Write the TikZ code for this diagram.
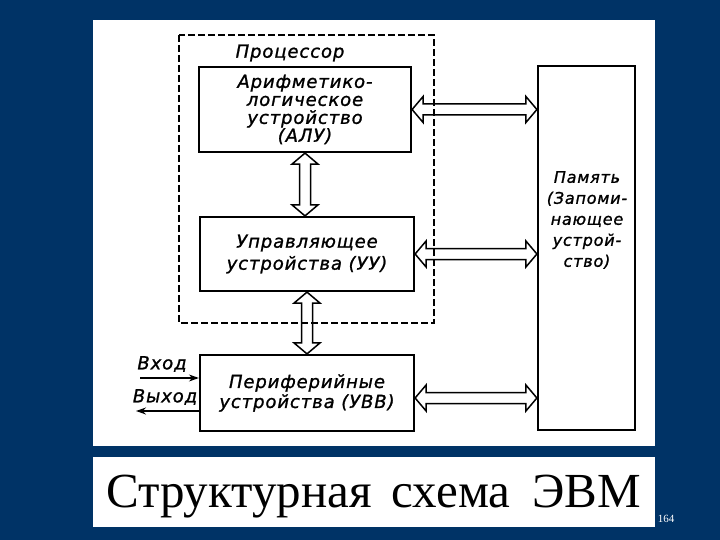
\documentclass[tikz,border=0pt]{standalone}
\usepackage{fontspec}
\newfontfamily\draftfont[LetterSpace=5, FakeBold=1.2]{DejaVu Sans}
\newfontfamily\titlefont{Liberation Serif}
\usetikzlibrary{calc, arrows.meta}
\definecolor{slideblue}{RGB}{0,51,102}

\begin{document}
\begin{tikzpicture}[
    x=1pt, y=-1pt,
    font=\draftfont\itshape\fontsize{18}{18}\selectfont,
    unit/.style={rectangle, draw, line width=2.2pt, inner sep=0pt, align=center},
    panel/.style={fill=white, draw=none},
    bus/.style={
        draw, line width=1.5pt, line join=miter,
        to path={
            (\tikztostart)
            -- ($(\tikztostart)!11pt!(\tikztotarget)!13pt!90:(\tikztotarget)$)
            -- ($(\tikztostart)!11pt!(\tikztotarget)!5.5pt!90:(\tikztotarget)$)
            -- ($(\tikztotarget)!11pt!(\tikztostart)!5.5pt!-90:(\tikztostart)$)
            -- ($(\tikztotarget)!11pt!(\tikztostart)!13pt!-90:(\tikztostart)$)
            -- (\tikztotarget)
            -- ($(\tikztotarget)!11pt!(\tikztostart)!13pt!90:(\tikztostart)$)
            -- ($(\tikztotarget)!11pt!(\tikztostart)!5.5pt!90:(\tikztostart)$)
            -- ($(\tikztostart)!11pt!(\tikztotarget)!5.5pt!-90:(\tikztotarget)$)
            -- ($(\tikztostart)!11pt!(\tikztotarget)!13pt!-90:(\tikztotarget)$)
            -- cycle
        }
    },
    io/.style={line width=1.4pt, -{Stealth[length=10pt, width=7pt]}}
]

    % --- 1. Slide background ---
    \fill[slideblue] (0,0) rectangle (720,540);
    \fill[panel] (93,20) rectangle (655,446);
    \fill[panel] (93,457) rectangle (655,527);
    \node[white, font=\titlefont\fontsize{11}{12}\selectfont] (page) at (666,519) {164};

    % --- 2. Processor frame ---
    \draw[line width=1.4pt, dash pattern=on 7pt off 3pt] (179,35) rectangle (434,323);
    \node (cpu) at (290,53) {Процессор};

    % --- 3. Units ---
    \node[unit, minimum width=212pt, minimum height=85pt] (alu) at (305,109.5)
        {Арифметико-\\логическое\\устройство\\(АЛУ)};
    \node[unit, minimum width=214pt, minimum height=74pt] (uu) at (307,254)
        {Управляющее\\[4pt]устройства (УУ)};
    \node[unit, minimum width=214pt, minimum height=76pt] (uvv) at (307,393)
        {Периферийные\\[2pt]устройства (УВВ)};
    \node[unit, minimum width=97pt, minimum height=364pt] (mem) at (586.5,248) {};
    \node[align=center, font=\draftfont\itshape\fontsize{16}{18}\selectfont] (memtext) at (587,220)
        {Память\\[3pt](Запоми-\\[3pt]нающее\\[3pt]устрой-\\[3pt]ство)};

    % --- 4. Buses ---
    \path[bus] (alu.east) to (alu.east -| mem.west);
    \path[bus] (uu.east) to (uu.east -| mem.west);
    \coordinate (uvvbus) at ([yshift=-5pt]uvv.east);
    \path[bus] (uvvbus) to (uvvbus -| mem.west);
    \path[bus] (alu.south) to (alu.south |- uu.north);
    \path[bus] (uu.south) to (uu.south |- uvv.north);

    % --- 5. Input / output ---
    \coordinate (vin) at (140,378);
    \coordinate (vout) at (136,411);
    \draw[io] (vin) -- (vin -| uvv.west);
    \draw[io] (vout -| uvv.west) -- (vout);
    \node (intext) at (162,364) {Вход};
    \node (outtext) at (165,397) {Выход};

    % --- 6. Caption ---
    \node[anchor=base, font=\titlefont\fontsize{49}{52}\selectfont] (title) at (373.5,507)
        {Структурная\hspace{20pt}схема\hspace{22pt}ЭВМ};

\end{tikzpicture}
\end{document}
